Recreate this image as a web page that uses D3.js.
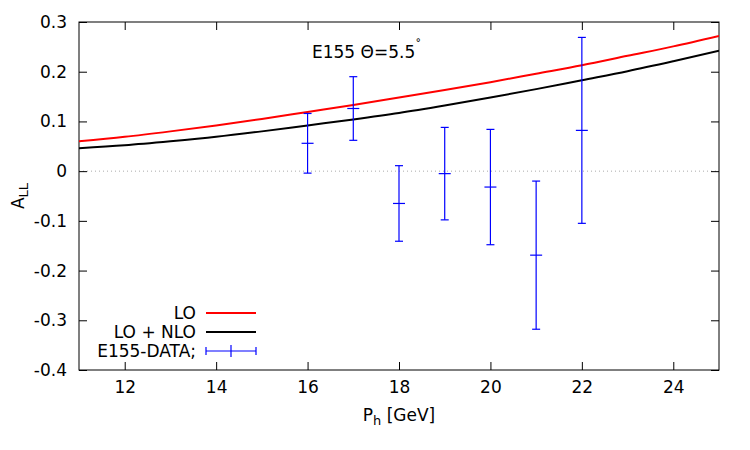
<!DOCTYPE html>
<html>
<head>
<meta charset="utf-8">
<script src="https://cdn.jsdelivr.net/npm/d3@7"></script>
<style>
  body { margin: 0; background: #fff; }
  text { font-family: "DejaVu Sans", sans-serif; fill: #000; }
</style>
</head>
<body>
<div id="chart"></div>
<script>
// curve samples
var ph = [11, 12, 13, 14, 15, 16, 17, 18, 19, 20, 21, 22, 23, 24, 25];
var lo = [0.060, 0.069, 0.080, 0.092, 0.105, 0.119, 0.133, 0.148, 0.163, 0.179, 0.196, 0.213, 0.232, 0.251, 0.272];
var nlo = [0.046, 0.052, 0.060, 0.069, 0.080, 0.092, 0.104, 0.117, 0.132, 0.148, 0.165, 0.183, 0.201, 0.221, 0.242];

// E155 data points
var dataX = [16, 17, 18, 19, 20, 21, 22];
var dataY = [0.056, 0.126, -0.065, -0.005, -0.032, -0.169, 0.082];
var dataErr = [0.060, 0.064, 0.076, 0.093, 0.116, 0.149, 0.187];

var xTicks = [12, 14, 16, 18, 20, 22, 24];
var yTicks = [-0.4, -0.3, -0.2, -0.1, 0, 0.1, 0.2, 0.3];

var W = 750, H = 450;
var margin = { top: 22, right: 31, bottom: 80, left: 79 };
var width = W - margin.left - margin.right,
    height = H - margin.top - margin.bottom;
var fs = "17px";

var svg = d3.select("#chart").append("svg")
    .attr("width", W)
    .attr("height", H);

var g = svg.append("g")
    .attr("transform", "translate(" + margin.left + "," + margin.top + ")");

var x = d3.scaleLinear().domain([11, 25]).range([0, width]);
var y = d3.scaleLinear().domain([-0.4, 0.3]).range([height, 0]);

var fmtY = function(d) { return d === 0 ? "0" : d3.format(".1f")(d).replace("\u2212", "-"); };

// zero line
g.append("line")
    .attr("x1", 0).attr("x2", width)
    .attr("y1", y(0)).attr("y2", y(0))
    .style("stroke", "#aaa")
    .style("stroke-width", 1)
    .style("stroke-dasharray", "1,3");

// axes, ticks inward on all four sides
var tickLen = 8;
var axBottom = g.append("g").attr("transform", "translate(0," + height + ")")
    .call(d3.axisBottom(x).tickValues(xTicks).tickSize(-tickLen).tickPadding(11).tickFormat(d3.format("d")));
var axTop = g.append("g")
    .call(d3.axisTop(x).tickValues(xTicks).tickSize(-tickLen).tickFormat(""));
var axLeft = g.append("g")
    .call(d3.axisLeft(y).tickValues(yTicks).tickSize(-tickLen).tickPadding(12).tickFormat(fmtY));
var axRight = g.append("g").attr("transform", "translate(" + width + ",0)")
    .call(d3.axisRight(y).tickValues(yTicks).tickSize(-tickLen).tickFormat(""));

[axBottom, axTop, axLeft, axRight].forEach(function(a) {
    a.select(".domain").remove();
    a.selectAll(".tick line").style("stroke", "#000");
    a.selectAll("text").style("font-size", fs).style("font-family", "DejaVu Sans, sans-serif");
});

g.append("rect")
    .attr("width", width).attr("height", height)
    .style("fill", "none").style("stroke", "#000").style("stroke-width", 1);

// curves
var line = d3.line()
    .x(function(d) { return x(d[0]); })
    .y(function(d) { return y(d[1]); })
    .curve(d3.curveMonotoneX);

svg.append("clipPath").attr("id", "clip")
    .append("rect").attr("width", width).attr("height", height);

g.append("path")
    .datum(d3.zip(ph, nlo))
    .attr("d", line)
    .attr("clip-path", "url(#clip)")
    .style("fill", "none").style("stroke", "#000").style("stroke-width", 2);

g.append("path")
    .datum(d3.zip(ph, lo))
    .attr("d", line)
    .attr("clip-path", "url(#clip)")
    .style("fill", "none").style("stroke", "#ff0000").style("stroke-width", 2);

// error bars
var pts = g.append("g").selectAll("g")
    .data(d3.range(dataX.length)).enter()
    .append("g")
    .style("stroke", "#0000ff").style("stroke-width", 1.2);

pts.append("line")
    .attr("x1", function(i) { return x(dataX[i]); })
    .attr("x2", function(i) { return x(dataX[i]); })
    .attr("y1", function(i) { return y(dataY[i] - dataErr[i]); })
    .attr("y2", function(i) { return y(dataY[i] + dataErr[i]); });

[-1, 1].forEach(function(s) {
    pts.append("line")
        .attr("x1", function(i) { return x(dataX[i]) - 4; })
        .attr("x2", function(i) { return x(dataX[i]) + 4; })
        .attr("y1", function(i) { return y(dataY[i] + s * dataErr[i]); })
        .attr("y2", function(i) { return y(dataY[i] + s * dataErr[i]); });
});

pts.append("line")
    .attr("x1", function(i) { return x(dataX[i]) - 6; })
    .attr("x2", function(i) { return x(dataX[i]) + 6; })
    .attr("y1", function(i) { return y(dataY[i]); })
    .attr("y2", function(i) { return y(dataY[i]); });

// title inside plot
var title = svg.append("text")
    .attr("x", 312).attr("y", 58)
    .style("font-size", fs);
title.append("tspan").text("E155 \u0398=5.5");
title.append("tspan").attr("dy", -8).style("font-size", "12px").text("\u02da");

// legend
var legend = [
    { label: "LO", color: "#ff0000", w: 2, y: 313 },
    { label: "LO + NLO", color: "#000", w: 2, y: 332 },
    { label: "E155-DATA;", color: "#0000ff", w: 1.2, y: 351, err: true }
];
var lg = svg.append("g").selectAll("g").data(legend).enter().append("g");
lg.append("text")
    .attr("x", 196).attr("y", function(d) { return d.y + 6; })
    .attr("text-anchor", "end")
    .style("font-size", fs)
    .text(function(d) { return d.label; });
lg.append("line")
    .attr("x1", 206).attr("x2", 256)
    .attr("y1", function(d) { return d.y; }).attr("y2", function(d) { return d.y; })
    .style("stroke", function(d) { return d.color; })
    .style("stroke-width", function(d) { return d.w; });
lg.filter(function(d) { return d.err; }).each(function(d) {
    var s = d3.select(this);
    [206, 231, 256].forEach(function(px) {
        s.append("line")
            .attr("x1", px).attr("x2", px)
            .attr("y1", d.y - (px === 231 ? 6 : 4)).attr("y2", d.y + (px === 231 ? 6 : 4))
            .style("stroke", d.color).style("stroke-width", 1.2);
    });
});

// axis labels
var xl = svg.append("text")
    .attr("x", 399).attr("y", 421)
    .attr("text-anchor", "middle")
    .style("font-size", fs);
xl.append("tspan").text("P");
xl.append("tspan").attr("dy", 4).style("font-size", "13px").text("h");
xl.append("tspan").attr("dy", -4).text(" [GeV]");

var yl = svg.append("text")
    .attr("transform", "translate(24,196) rotate(-90)")
    .attr("text-anchor", "middle")
    .style("font-size", fs);
yl.append("tspan").text("A");
yl.append("tspan").attr("dy", 4).style("font-size", "13px").text("LL");
</script>
</body>
</html>
